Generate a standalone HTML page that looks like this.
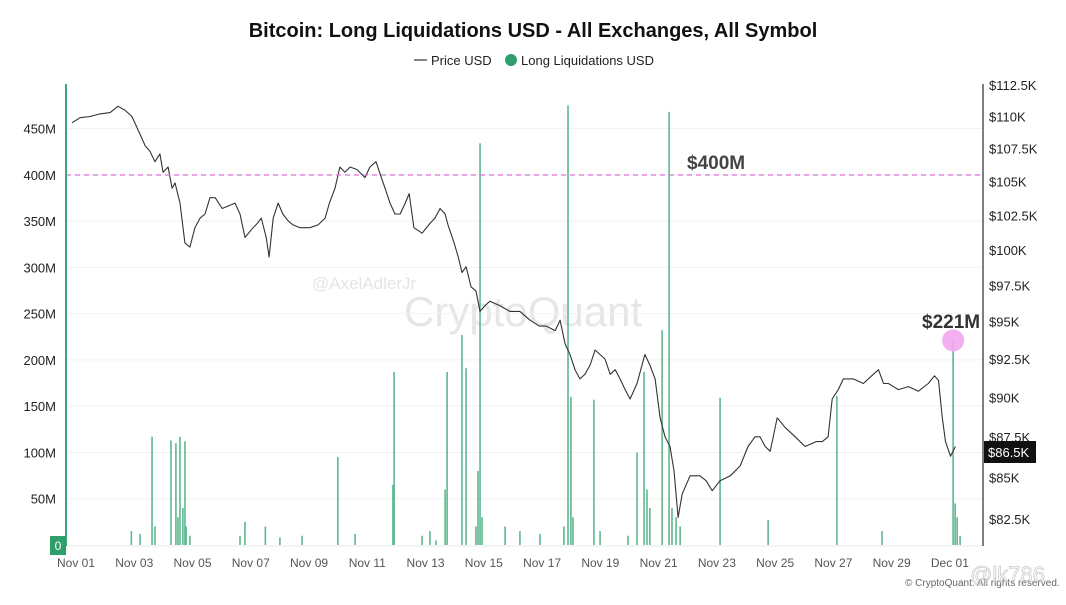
<!DOCTYPE html>
<html><head><meta charset="utf-8">
<style>
html,body{margin:0;padding:0;background:#fff;}
body{width:1066px;height:600px;overflow:hidden;font-family:"Liberation Sans",sans-serif;}
</style></head>
<body>
<svg id="chart" width="1066" height="600" xmlns="http://www.w3.org/2000/svg" font-family="Liberation Sans, sans-serif">
<text x="533" y="37" text-anchor="middle" font-size="20" font-weight="bold" fill="#111">Bitcoin: Long Liquidations USD - All Exchanges, All Symbol</text>
<g>
<line x1="414" y1="60" x2="427" y2="60" stroke="#333" stroke-width="1.2"/>
<text x="431" y="65" font-size="13" fill="#222">Price USD</text>
<circle cx="511" cy="60" r="6" fill="#2e9e6a"/>
<text x="521" y="65" font-size="13" fill="#222">Long Liquidations USD</text>
</g>
<text x="312" y="289" font-size="17" fill="#e4e4e4">@AxelAdlerJr</text>
<text x="404" y="326" font-size="42" fill="#e6e6e6">CryptoQuant</text>
<g id="grid"></g>
<g id="bars"></g>
<g id="price"></g>
<line x1="66" y1="175" x2="982" y2="175" stroke="#e070e0" stroke-width="1.2" stroke-dasharray="5,4"/>
<text x="687" y="169" font-size="19" font-weight="bold" fill="#444">$400M</text>
<text x="922" y="328" font-size="19" font-weight="bold" fill="#333">$221M</text>
<line x1="66" y1="84" x2="66" y2="546" stroke="#3aa67a" stroke-width="2"/>
<line x1="983" y1="84" x2="983" y2="546" stroke="#555" stroke-width="1.5"/>
<g id="axes"></g>
<rect x="50" y="536" width="16" height="19" fill="#2e9e6a"/>
<text x="58" y="550" text-anchor="middle" font-size="12" fill="#fff">0</text>
<rect x="984" y="441" width="52" height="22" fill="#111"/>
<text x="988" y="457" font-size="13" fill="#fff">$86.5K</text>
<text x="905" y="586" font-size="10" fill="#666">© CryptoQuant. All rights reserved.</text>
<text x="970" y="582" font-size="22" fill="none" stroke="#ccc" stroke-width="0.8">@lk786</text>
</svg>
<script>
const NS="http://www.w3.org/2000/svg";
// ---- data ----
const liqTicks=[50,100,150,200,250,300,350,400,450];
const priceTicks=[82.5,85,87.5,90,92.5,95,97.5,100,102.5,105,107.5,110,112.5];
const dateLabels=["Nov 01","Nov 03","Nov 05","Nov 07","Nov 09","Nov 11","Nov 13","Nov 15","Nov 17","Nov 19","Nov 21","Nov 23","Nov 25","Nov 27","Nov 29","Dec 01"];
const priceDays=[-0.14,0.14,0.48,0.82,1.17,1.44,1.68,1.92,2.06,2.38,2.54,2.71,2.88,2.99,3.16,3.3,3.4,3.57,3.74,3.91,4.08,4.26,4.43,4.6,4.78,5.02,5.46,5.63,5.8,6.08,6.22,6.36,6.53,6.63,6.77,6.94,7.1,7.28,7.45,7.69,8.03,8.31,8.55,8.7,8.89,9.06,9.23,9.41,9.65,9.92,10.09,10.3,10.48,10.61,10.78,10.95,11.13,11.3,11.44,11.6,11.88,12.15,12.32,12.5,12.67,12.77,12.98,13.12,13.25,13.39,13.56,13.73,13.87,14.04,14.21,14.55,14.9,15.24,15.59,15.9,16.14,16.45,16.62,16.79,16.96,17.13,17.3,17.47,17.65,17.82,17.99,18.16,18.34,18.51,18.68,18.85,19.02,19.26,19.53,19.7,19.88,20.05,20.22,20.39,20.53,20.67,20.81,21.08,21.42,21.63,21.84,22.11,22.46,22.8,23.07,23.31,23.48,23.66,23.83,24.07,24.34,24.69,25.03,25.41,25.62,25.82,25.96,26.17,26.34,26.68,27.03,27.37,27.55,27.72,27.89,28.23,28.58,28.92,29.26,29.47,29.61,29.74,29.85,30.02,30.19,30.33];
const priceVals=[109.5,109.9,110.0,110.2,110.3,110.8,110.5,110.0,109.3,107.7,107.3,106.5,107.1,105.7,106.1,104.5,104.9,103.4,100.5,100.2,101.6,102.3,102.6,103.8,103.8,103.0,103.4,102.6,100.9,101.6,101.9,102.3,100.9,99.5,102.3,103.4,102.6,102.1,101.8,101.6,101.6,101.8,102.3,103.4,104.5,106.1,105.7,106.1,105.9,105.3,106.1,106.5,105.3,104.5,103.4,102.6,102.6,103.4,104.1,101.6,101.2,101.9,102.3,103.0,102.6,101.8,100.5,99.5,98.4,98.8,97.4,97.1,95.7,96.1,96.4,96.1,95.7,95.7,95.1,94.7,94.7,94.4,95.1,93.5,92.8,91.8,91.2,91.5,92.1,93.1,92.8,92.5,91.5,91.8,91.2,90.5,89.9,90.9,92.8,92.1,91.2,88.7,87.5,86.9,85.4,82.6,84.0,85.1,85.1,84.8,84.2,84.8,85.1,85.7,86.9,87.5,87.5,86.9,86.6,88.7,88.1,87.5,86.9,87.2,87.2,87.5,89.9,90.5,91.2,91.2,90.9,91.5,91.8,90.9,90.9,90.5,90.7,90.4,90.9,91.4,91.1,88.7,87.2,86.3,86.9];
const liqDays=[1.9,2.2,2.61,2.71,3.26,3.43,3.5,3.57,3.67,3.74,3.78,3.91,5.63,5.8,6.5,7.0,7.76,8.99,9.58,10.88,10.92,11.88,12.15,12.36,12.67,12.74,13.25,13.39,13.73,13.8,13.87,13.94,14.73,15.24,15.93,16.75,16.89,16.99,17.06,17.78,17.99,18.95,19.26,19.5,19.6,19.7,20.12,20.36,20.46,20.6,20.74,22.11,23.76,26.12,27.67,30.11,30.18,30.25,30.35];
const liqVals=[15,12,117,20,113,110,30,117,40,112,20,10,10,25,20,8,10,95,12,65,187,10,15,5,60,187,227,191,20,80,434,30,20,15,12,20,475,160,30,157,15,10,100,187,60,40,232,468,40,30,20,159,27,161,15,221,45,30,10];
// ---- scales ----
const xDay=d=>76+d*29.13;
const yLiq=v=>545-v*0.9256;
const yPrice=p=>85+1400*Math.log(112.5/p);
const mk=(tag,attrs,parent)=>{const e=document.createElementNS(NS,tag);for(const k in attrs)e.setAttribute(k,attrs[k]);parent.appendChild(e);return e;};
const grid=document.getElementById('grid'),axes=document.getElementById('axes'),bars=document.getElementById('bars'),price=document.getElementById('price');
liqTicks.forEach(v=>{
  const g=mk('line',{x1:66,x2:982,y1:yLiq(v),y2:yLiq(v),stroke:'#f2f2f2','stroke-width':1},grid);
  
  
  const t=mk('text',{x:56,y:yLiq(v)+5,'text-anchor':'end','font-size':13,fill:'#222'},axes);
  t.textContent=v+'M';
  
  
});
priceTicks.forEach(p=>{
  const t=mk('text',{x:989,y:yPrice(p)+5,'font-size':13,fill:'#222'},axes);
  t.textContent='$'+p+'K';
  
  
});
dateLabels.forEach((s,i)=>{
  const t=mk('text',{x:xDay(i*2),y:567,'text-anchor':'middle','font-size':12,fill:'#555'},axes);
  t.textContent=s;
  
  
});
mk('line',{x1:66,x2:982,y1:546,y2:546,stroke:'#e8e8e8','stroke-width':1},grid);
liqDays.forEach((d,i)=>{
  const y=yLiq(liqVals[i]);
  const r=mk('rect',{x:xDay(d)-0.8,y:y,width:1.6,height:545-y,fill:'#5db88f'},bars);
  
  
});
const pts=priceDays.map((d,i)=>xDay(d).toFixed(1)+','+yPrice(priceVals[i]).toFixed(1)).join(' ');
const pl=mk('polyline',{points:pts,fill:'none',stroke:'#333','stroke-width':1.1,'stroke-linejoin':'round'},price);


const mi=liqVals.indexOf(221);
const c=mk('circle',{cx:xDay(liqDays[mi]),cy:yLiq(221),r:11,fill:'#f2a6ee',opacity:0.9},price);


</script>
</body></html>
